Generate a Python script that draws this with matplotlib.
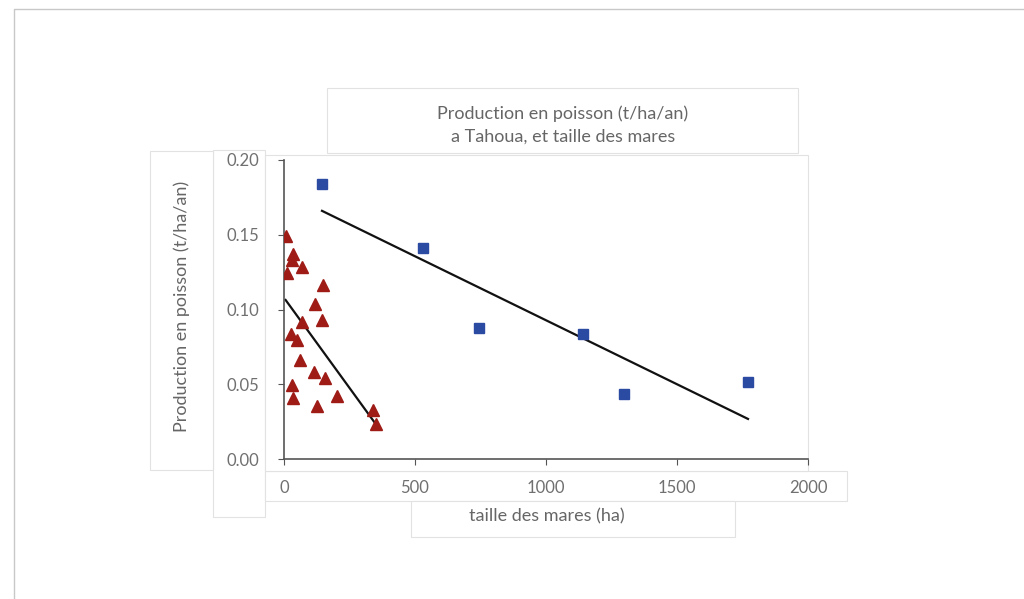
import matplotlib.pyplot as plt
from matplotlib.patches import Rectangle
from matplotlib.lines import Line2D

plt.rcParams['font.family'] = ['Lato', 'DejaVu Sans']

# mares de grande taille (carrés bleus)
grandes_x = [145, 530, 744, 1141, 1298, 1771]
grandes_y = [0.184, 0.141, 0.0876, 0.0836, 0.0435, 0.0515]
# droite de tendance (extrémités)
grandes_fit_x = [145, 1771]
grandes_fit_y = [0.166, 0.0268]

# petites mares (triangles rouges)
petites_x = [7, 35, 29, 70, 13, 148, 118, 146, 67, 27, 51, 60, 116, 156,
             29, 36, 201, 125, 338, 353]
petites_y = [0.149, 0.137, 0.133, 0.1286, 0.1246, 0.1164, 0.1037, 0.093,
             0.0918, 0.0834, 0.0796, 0.0662, 0.0584, 0.0544, 0.0495, 0.0406,
             0.0424, 0.0355, 0.0328, 0.0234]
petites_fit_x = [6, 353]
petites_fit_y = [0.1064, 0.0227]

x_ticks = [0, 500, 1000, 1500, 2000]
y_ticks = [0.00, 0.05, 0.10, 0.15, 0.20]

titre = "Production en poisson (t/ha/an)\na Tahoua, et taille des mares"
label_x = "taille des mares (ha)"
label_y = "Production en poisson (t/ha/an)"

W, H = 1024, 599
fig = plt.figure(figsize=(W / 100, H / 100), dpi=100)


def px_rect(x0, y0, x1, y1, z):
    # rectangle en pixels (origine en haut à gauche) -> coordonnées figure
    r = Rectangle((x0 / W, 1 - y1 / H), (x1 - x0) / W, (y1 - y0) / H,
                  transform=fig.transFigure, facecolor='white',
                  edgecolor='#e2e2e2', lw=0.8, zorder=z)
    fig.patches.append(r)


# cadre extérieur
fig.lines.append(Line2D([14 / W, 14 / W, 1], [0, 1 - 9 / H, 1 - 9 / H],
                        transform=fig.transFigure, color='#c8c8c8', lw=1))

# boîtes blanches autour des éléments
px_rect(213, 150, 265, 517, 0.1)    # graduations y
px_rect(150, 151, 213, 470, 0.2)    # étiquette y
px_rect(265, 471, 847, 501, 0.3)    # graduations x
px_rect(265, 155, 808, 471, 0.4)    # zone de tracé
px_rect(411, 501, 735, 537, 0.5)    # étiquette x
px_rect(327, 88, 798, 153, 0.6)     # titre

ax = fig.add_axes([284 / W, 1 - 459 / H, (808 - 284) / W, (459 - 160) / H])
ax.set_zorder(5)
ax.patch.set_alpha(0)

ax.plot(grandes_x, grandes_y, 's', color='#2b4ba3', markersize=7.5, zorder=3)
ax.plot(grandes_fit_x, grandes_fit_y, '-', color='#111111', lw=1.6, zorder=2)
ax.plot(petites_x, petites_y, '^', color='#9e1b16', markersize=9, zorder=3)
ax.plot(petites_fit_x, petites_fit_y, '-', color='#111111', lw=1.6, zorder=2)

ax.set_xlim(0, 2000)
ax.set_ylim(0, 0.20)
ax.set_xticks(x_ticks)
ax.set_yticks(y_ticks)
ax.set_xticklabels([str(t) for t in x_ticks])
ax.set_yticklabels(['%.2f' % t for t in y_ticks])

for s in ['top', 'right']:
    ax.spines[s].set_visible(False)
for s in ['left', 'bottom']:
    ax.spines[s].set_color('#555555')
    ax.spines[s].set_linewidth(1.2)
ax.tick_params(axis='both', direction='out', length=4, color='#555555',
               labelcolor='#707070', labelsize=12)
ax.tick_params(axis='x', pad=11)
ax.tick_params(axis='y', pad=14)

fig.text(563 / W, 1 - 125 / H, titre, ha='center', va='center',
         fontsize=13, color='#666666', linespacing=1.45, zorder=6)
fig.text(547 / W, 1 - 516 / H, label_x, ha='center', va='center',
         fontsize=13, color='#666666', zorder=6)
fig.text(182 / W, 1 - 306 / H, label_y, ha='center', va='center',
         rotation=90, fontsize=13, color='#666666', zorder=6)

fig.savefig('out.png', dpi=100)
